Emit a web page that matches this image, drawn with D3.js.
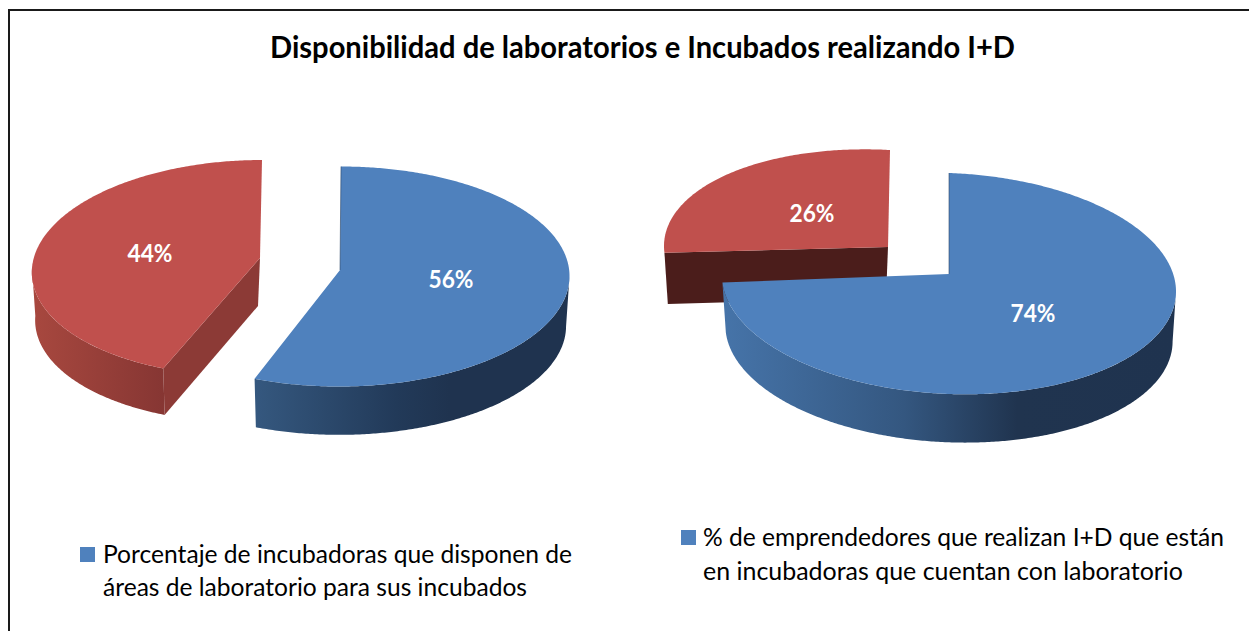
<!DOCTYPE html>
<html><head><meta charset="utf-8">
<script src="https://cdnjs.cloudflare.com/ajax/libs/d3/7.8.5/d3.min.js"></script>
<style>html,body{margin:0;padding:0;background:#fff;overflow:hidden}svg{display:block}text{font-family:Lato,"Open Sans",sans-serif}</style>
</head><body><svg id="c" width="1249" height="631"></svg>
<script>
const titleText = "Disponibilidad de laboratorios e Incubados realizando I+D";
const leftValues = [56, 44];
const rightValues = [74, 26];
const leftLabels = ["56%", "44%"];
const rightLabels = ["74%", "26%"];
const leftLegend = ["Porcentaje de incubadoras que disponen de", "áreas de laboratorio para sus incubados"];
const rightLegend = ["% de emprendedores que realizan I+D que están", "en incubadoras que cuentan con laboratorio"];

const BLUE = "#4f81bd", RED = "#c0504d";
const svg = d3.select("#c");
const defs = svg.append("defs");

// projection of every slice: affine ellipse, apex, wall depth
const leftGeom = [
 {cx:340,cy:276.5,rx:229.5,ry:110,sx:-1,ty:0,ax:340,ay:270,d:50,fill:BLUE,
  wall:[["0%","#35587f"],["45%","#223a59"],["62%","#1f334f"],["100%","#1f334f"]],cut:null,lx:451,ly:279},
 {cx:253,cy:268,rx:221,ry:108,sx:-9,ty:0,ax:260,ay:258,d:48,fill:RED,
  wall:[["0%","#a8483f"],["100%","#863633"]],cut:"#8c3a36",lx:150,ly:253}
];
const rightGeom = [
 {cx:949,cy:283.5,rx:227,ry:110.5,sx:0,ty:8,ax:949,ay:274,d:50,fill:BLUE,
  wall:[["0%","#4674a9"],["40%","#345780"],["65%","#20344f"],["100%","#1f334f"]],cut:null,lx:1033,ly:313},
 {cx:890,cy:258,rx:226,ry:108,sx:0,ty:12,ax:888,ay:247,d:51,fill:RED,
  wall:[["0%","#4b1d1b"],["100%","#4b1d1b"]],cut:"#4b1d1b",lx:812,ly:213}
];

const pie = d3.pie().sort(null).startAngle(0).endAngle(2*Math.PI);
const line = d3.line();

function pt(g,a,depth=0,scale=1){
  const x = g.rx*Math.sin(a) - g.sx*Math.cos(a);
  const y = -g.ry*Math.cos(a) + g.ty*Math.sin(a);
  return [g.cx + x*scale, g.cy + y*scale + depth];
}
function samples(a0,a1){
  const n = Math.max(2,Math.ceil(Math.abs(a1-a0)/0.01));
  return d3.range(n+1).map(i=>a0+(a1-a0)*i/n);
}
let gid=0;
function drawPie(values,labels,geom){
  const arcs = pie(values);
  // back slice (red) first, then front (blue)
  [1,0].forEach(i=>{
    const s = arcs[i], g = geom[i];
    const group = svg.append("g");
    const INSET = 0.985;
    // cut face joining the apex and the slice start corner
    if(g.cut){
      const c = pt(g,s.startAngle), cb = pt(g,s.startAngle,g.d,INSET);
      group.append("path").attr("fill",g.cut)
        .attr("d",line([[g.ax,g.ay],c,cb,[g.ax-2,g.ay+g.d]])+"Z");
    }
    // outer wall: front half of the ellipse only
    const w0 = Math.max(s.startAngle,Math.PI/2), w1 = Math.min(s.endAngle,3*Math.PI/2);
    if(w1>w0 && i===0 || (w1>w0 && g.cut!=="#4b1d1b")){
      const as = samples(w0,w1);
      const top = as.map(a=>pt(g,a)), bot = as.map(a=>pt(g,a,g.d,INSET)).reverse();
      const xs = top.concat(bot).map(p=>p[0]);
      const id = "w"+(gid++);
      const lg = defs.append("linearGradient").attr("id",id).attr("gradientUnits","userSpaceOnUse")
        .attr("x1",d3.min(xs)).attr("x2",d3.max(xs)).attr("y1",0).attr("y2",0);
      g.wall.forEach(st=>lg.append("stop").attr("offset",st[0]).attr("stop-color",st[1]));
      group.append("path").attr("fill",`url(#${id})`).attr("d",line(top.concat(bot))+"Z");
    }
    // top face
    const rim = samples(s.startAngle,s.endAngle).map(a=>pt(g,a));
    group.append("path").attr("fill",g.fill).attr("d",line([[g.ax,g.ay]].concat(rim))+"Z");
    // thin back edge along the radius at 12 o'clock of the front slice
    if(i===0){
      group.append("path").attr("fill","none").attr("stroke","#2b4668").attr("stroke-width",1).attr("stroke-opacity",0.6)
        .attr("d",line([pt(g,s.startAngle),[g.ax,g.ay]]));
    }
    group.append("text").attr("x",g.lx).attr("y",g.ly).attr("dy","0.36em")
      .attr("text-anchor","middle").attr("fill","#fff").attr("font-weight",700)
      .attr("font-size",24).attr("textLength",45).attr("lengthAdjust","spacingAndGlyphs")
      .text(labels[i]);
  });
}

// frame
svg.append("path").attr("d",line([[9,631],[9,10],[1249,10]])).attr("fill","none").attr("stroke","#1a1a1a").attr("stroke-width",2);

svg.append("text").attr("x",270).attr("y",58).attr("font-size",30).attr("font-weight",700).attr("fill","#000")
  .attr("textLength",745).attr("lengthAdjust","spacingAndGlyphs").text(titleText);

drawPie(leftValues,leftLabels,leftGeom);
drawPie(rightValues,rightLabels,rightGeom);

function legend(lines,sx,sy,tx,ys,widths){
  svg.append("rect").attr("x",sx).attr("y",sy).attr("width",15).attr("height",15).attr("fill",BLUE);
  lines.forEach((t,i)=>svg.append("text").attr("x",tx).attr("y",ys[i]).attr("font-size",25).attr("fill","#000")
    .attr("textLength",widths[i]).attr("lengthAdjust","spacingAndGlyphs").text(t));
}
legend(leftLegend,80,547,103,[563,596],[469,424]);
legend(rightLegend,681,530,703,[546,580],[521,480]);
</script></body></html>
